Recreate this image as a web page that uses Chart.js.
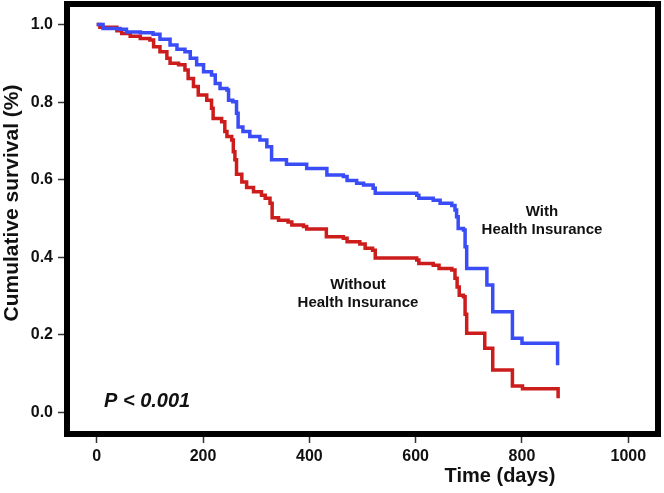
<!DOCTYPE html>
<html>
<head>
<meta charset="utf-8">
<script src="https://cdn.jsdelivr.net/npm/chart.js@4.4.1/dist/chart.umd.min.js"></script>
<style>
  html, body { margin: 0; padding: 0; background: #fff; }
  #wrap { width: 664px; height: 493px; }
</style>
</head>
<body>
<div id="wrap"><canvas id="km"></canvas></div>
<script>
// ---- data (Kaplan-Meier steps: day of drop, new survival) ----
const daysWith = [0, 12, 44, 56, 82, 106, 119, 138, 151, 166, 176, 188, 201, 216, 223, 232, 245, 248, 256, 263, 266, 275, 288, 307, 320, 329, 357, 395, 433, 464, 471, 489, 502, 520, 524, 602, 606, 633, 646, 668, 674, 677, 680, 690, 693, 696, 734, 745, 782, 800, 867];
const survWith = [1.0, 0.990, 0.988, 0.981, 0.979, 0.975, 0.962, 0.947, 0.936, 0.930, 0.913, 0.896, 0.878, 0.870, 0.848, 0.835, 0.831, 0.805, 0.801, 0.771, 0.736, 0.724, 0.711, 0.702, 0.685, 0.651, 0.640, 0.629, 0.612, 0.608, 0.598, 0.591, 0.586, 0.578, 0.565, 0.560, 0.552, 0.547, 0.539, 0.533, 0.522, 0.504, 0.474, 0.470, 0.427, 0.371, 0.328, 0.259, 0.191, 0.178, 0.121];

const daysWithout = [0, 6, 38, 47, 63, 82, 100, 107, 119, 132, 138, 154, 166, 172, 182, 191, 207, 216, 219, 235, 241, 245, 254, 257, 260, 263, 273, 282, 295, 310, 317, 326, 330, 342, 360, 367, 389, 395, 432, 464, 471, 495, 505, 519, 524, 602, 606, 633, 644, 668, 674, 678, 682, 690, 693, 696, 730, 745, 782, 801, 868];
const survWithout = [1.0, 0.993, 0.984, 0.977, 0.970, 0.964, 0.960, 0.943, 0.930, 0.913, 0.900, 0.896, 0.883, 0.861, 0.840, 0.818, 0.805, 0.784, 0.758, 0.749, 0.724, 0.711, 0.702, 0.672, 0.651, 0.614, 0.594, 0.580, 0.569, 0.560, 0.552, 0.539, 0.502, 0.495, 0.491, 0.483, 0.479, 0.473, 0.453, 0.449, 0.440, 0.434, 0.423, 0.418, 0.398, 0.393, 0.384, 0.379, 0.371, 0.367, 0.346, 0.323, 0.302, 0.298, 0.253, 0.204, 0.165, 0.109, 0.068, 0.061, 0.036];

const xTicks = [0, 200, 400, 600, 800, 1000];
const yTicks = [0.0, 0.2, 0.4, 0.6, 0.8, 1.0];

const BLUE = "#3a4cf5";
const RED  = "#cc1c1c";
const fontFamily = "'Liberation Sans', Arial, sans-serif";

const toPoints = (xs, ys) => xs.map((x, i) => ({ x, y: ys[i] }));

// ---- frame + annotation text ----
const framePlugin = {
  id: "frame",
  afterDatasetsDraw(chart) {
    const { ctx, chartArea: a } = chart;
    ctx.save();
    ctx.strokeStyle = "#000";
    ctx.lineWidth = 6;
    ctx.strokeRect(a.left, a.top, a.right - a.left, a.bottom - a.top);
    ctx.restore();
  },
  afterDraw(chart) {
    const { ctx } = chart;
    ctx.save();
    ctx.fillStyle = "#111";
    ctx.textAlign = "center";
    ctx.textBaseline = "middle";

    ctx.font = "bold 15px " + fontFamily;
    ctx.fillText("With", 542, 212);
    ctx.fillText("Health Insurance", 542, 230);
    ctx.fillText("Without", 358, 285);
    ctx.fillText("Health Insurance", 358, 303);

    ctx.font = "italic bold 20px " + fontFamily;
    ctx.textAlign = "left";
    ctx.fillText("P < 0.001", 104, 401);

    // axis titles
    ctx.font = "bold 20px " + fontFamily;
    ctx.textAlign = "center";
    ctx.fillText("Time (days)", 500, 476);

    ctx.translate(12, 203);
    ctx.rotate(-Math.PI / 2);
    ctx.font = "bold 21px " + fontFamily;
    ctx.fillText("Cumulative survival (%)", 0, 0);
    ctx.restore();
  }
};

new Chart(document.getElementById("km"), {
  type: "line",
  data: {
    datasets: [
      {
        label: "With Health Insurance",
        data: toPoints(daysWith, survWith),
        borderColor: BLUE,
        borderWidth: 3.5,
        stepped: true,
        pointRadius: 0,
        fill: false
      },
      {
        label: "Without Health Insurance",
        data: toPoints(daysWithout, survWithout),
        borderColor: RED,
        borderWidth: 3.5,
        stepped: true,
        pointRadius: 0,
        fill: false
      }
    ]
  },
  options: {
    responsive: true,
    maintainAspectRatio: false,
    animation: false,
    layout: { padding: { top: 4, right: 6, left: 0, bottom: 0 } },
    plugins: { legend: { display: false }, tooltip: { enabled: false } },
    scales: {
      x: {
        type: "linear",
        min: -55.9,
        max: 1055.9,
        afterBuildTicks: (s) => { s.ticks = xTicks.map(v => ({ value: v })); },
        afterFit: (s) => { s.height = 59; s.paddingLeft = 0; s.paddingRight = 0; },
        border: { display: false },
        grid: { drawOnChartArea: false, drawTicks: true, tickLength: 9, tickColor: "#333", tickWidth: 1.5 },
        ticks: {
          color: "#111", padding: 4,
          font: { family: fontFamily, size: 16, weight: "bold" },
          callback: (v) => String(v)
        }
      },
      y: {
        min: -0.056,
        max: 1.053,
        afterBuildTicks: (s) => { s.ticks = yTicks.map(v => ({ value: v })); },
        afterFit: (s) => { s.width = 67; s.paddingTop = 0; s.paddingBottom = 0; },
        border: { display: false },
        grid: { drawOnChartArea: false, drawTicks: true, tickLength: 9, tickColor: "#333", tickWidth: 1.5 },
        ticks: {
          color: "#111", padding: 5,
          font: { family: fontFamily, size: 16, weight: "bold" },
          callback: (v) => Number(v).toFixed(1)
        }
      }
    }
  },
  plugins: [framePlugin]
});
</script>
</body>
</html>
